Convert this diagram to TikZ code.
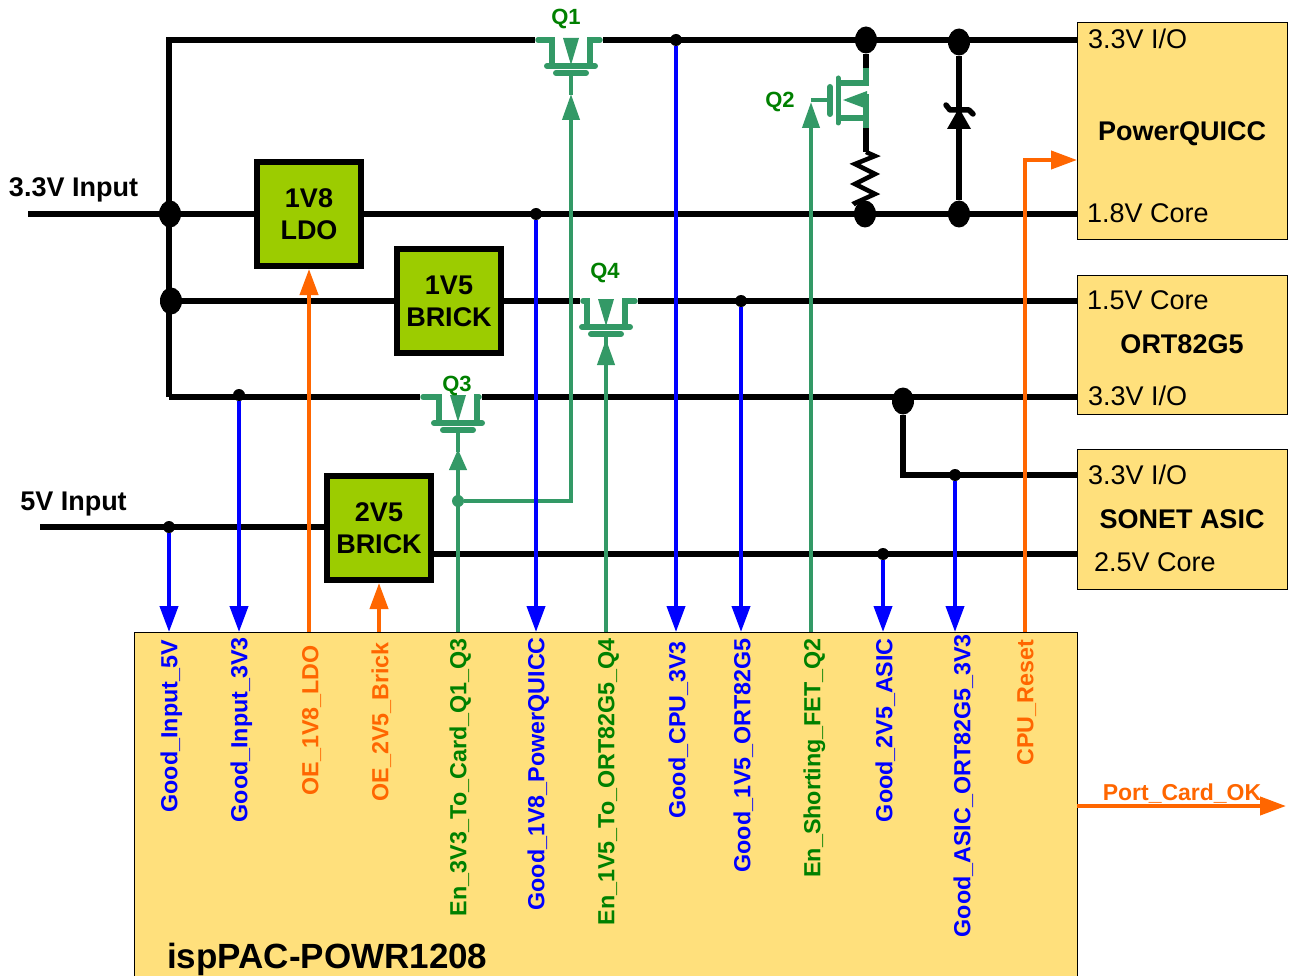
\documentclass[tikz,border=0pt]{standalone}
\usepackage{fontspec}
\setmainfont{Liberation Sans}
\usetikzlibrary{arrows.meta,shapes.geometric}
\definecolor{boxyellow}{HTML}{FFE07C}
\definecolor{brickgreen}{HTML}{9CCC00}
\definecolor{fetgreen}{HTML}{339966}
\definecolor{labelgreen}{HTML}{008000}
\definecolor{sigblue}{HTML}{0000FF}
\definecolor{sigorange}{HTML}{FF6600}
\tikzset{
  rail/.style={line width=5.5pt, black},
  sigblueline/.style={line width=4pt, sigblue, -{Triangle[length=26pt,width=18pt]}},
  sigorangeline/.style={line width=4pt, sigorange, -{Triangle[length=26pt,width=18pt]}},
  siggreenline/.style={line width=4pt, fetgreen, -{Triangle[length=26pt,width=17pt]}},
  brick/.style={draw=black, fill=brickgreen, line width=6pt, minimum width=104pt, minimum height=104pt,
    inner sep=0pt, align=center, font=\fontsize{27}{32}\selectfont\bfseries},
  chip/.style={draw=black, fill=boxyellow, line width=1pt, inner sep=0pt, outer sep=0pt, anchor=north west},
  bigdot/.style={ellipse, fill=black, inner sep=0pt, minimum width=22pt, minimum height=27pt},
  smalldot/.style={circle, fill=black, inner sep=0pt, minimum size=12pt},
  pintext/.style={font=\fontsize{27}{27}\selectfont, inner sep=0pt, anchor=west, text height=19pt, text depth=0pt},
  chiptext/.style={font=\fontsize{27}{27}\selectfont\bfseries, inner sep=0pt, text height=19pt, text depth=0pt},
  sigtext/.style={font=\fontsize{23.3}{23.3}\selectfont\bfseries, inner sep=0pt, rotate=90, anchor=east, text height=16.5pt, text depth=0pt},
  qtext/.style={font=\fontsize{22}{22}\selectfont\bfseries, labelgreen, inner sep=0pt, text height=16pt, text depth=0pt},
  pics/fet/.style 2 args={code={
    \draw[fetgreen, line width=5.5pt, line cap=round] (-#1+3,0) -- (-19,0) -- (-19,26);
    \draw[fetgreen, line width=5.5pt, line cap=round] (#2-3,0) -- (19,0) -- (19,26);
    \draw[fetgreen, line width=6pt, line cap=round] (-24,26) -- (24,26);
    \draw[fetgreen, line width=6pt, line cap=round] (-15,33) -- (15,33);
    \draw[fetgreen, line width=4.5pt] (0,33) -- (0,55);
    \fill[fetgreen] (-8,-2) -- (8,-2) -- (0,25) -- cycle;
    \coordinate (-left) at (-#1,0);
    \coordinate (-right) at (#2,0);
    \coordinate (-gate) at (0,33);
  }},
}
\begin{document}
\begin{tikzpicture}[x=1pt, y=-1pt]
  \useasboundingbox (0,0) rectangle (1289,976);
  \clip (0,0) rectangle (1289,976);

  % chips
  \node[chip, minimum width=210pt, minimum height=217pt] (quicc) at (1077,23) {};
  \node[chip, minimum width=210pt, minimum height=139pt] (ort) at (1077,275) {};
  \node[chip, minimum width=210pt, minimum height=140pt] (sonet) at (1077,449) {};
  \node[chip, minimum width=943pt, minimum height=360pt] (pac) at (134,632) {};

  % blocks
  \node[brick] (ldo) at (309,214) {1V8\\LDO};
  \node[brick] (bfive) at (449,301) {1V5\\BRICK};
  \node[brick] (btwo) at (379,528) {2V5\\BRICK};

  % junctions
  \node[bigdot] (jinput) at (170,214) {};
  \node[bigdot] (jfive) at (171,301) {};
  \node[bigdot] (jasic) at (903,401) {};
  \node[bigdot] (jqtop) at (866,40) {};
  \node[bigdot] (jqbot) at (865,214) {};
  \node[bigdot] (jztop) at (959,42) {};
  \node[bigdot] (jzbot) at (959,214) {};
  \node[smalldot] (dfive) at (169,527) {};
  \node[smalldot] (dthree) at (239,395) {};
  \node[smalldot] (dldo) at (536,214) {};
  \node[smalldot] (dcpu) at (676,40) {};
  \node[smalldot] (dort) at (741,301) {};
  \node[smalldot] (dcore) at (883,554) {};
  \node[smalldot] (dio) at (955,475) {};

  \coordinate (tl) at (169,40);
  \coordinate (bl) at (169,397);
  \coordinate (intl) at (28,214);
  \coordinate (infive) at (40,527);
  \coordinate (rtop) at (1078,40);
  \coordinate (rcore) at (1078,214);
  \coordinate (rfive) at (1078,301);
  \coordinate (rio) at (1078,397);
  \coordinate (rsio) at (1078,475);
  \coordinate (rsc) at (1078,554);
  \coordinate (bcore) at (432,554);

  % FETs
  \pic (qa) at (571,40) {fet={36}{32}};
  \pic (qc) at (458,397) {fet={38}{24}};
  \pic (qd) at (606,301) {fet={26}{32}};

  % rails
  \draw[rail] (bl) -- (tl) -- (qa-left);
  \draw[rail] (qa-right) -- (rtop);
  \draw[rail] (intl) -- (ldo.west);
  \draw[rail] (ldo.east) -- (rcore);
  \draw[rail] (jfive) -- (bfive.west);
  \draw[rail] (bfive.east) -- (qd-left);
  \draw[rail] (qd-right) -- (rfive);
  \draw[rail] (bl) -- (qc-left);
  \draw[rail] (qc-right) -- (rio);
  \draw[rail] (jasic) |- (rsio);
  \draw[rail] (infive) -- (btwo.west |- infive);
  \draw[rail] (bcore) -- (rsc);

  % Q2 with resistor
  \coordinate (qbd) at (866,68);
  \coordinate (qbs) at (866,128);
  \coordinate (qbg) at (830,100);
  \draw[rail] (jqtop) -- (qbd);
  \draw[rail] (qbs) -- (866,152);
  \draw[rail, line width=4.5pt] (866,152) -- (875,156) -- (855,164) -- (875,174) -- (855,184) -- (875,194) -- (855,203) -- (jqbot);
  \draw[fetgreen, line width=5.5pt] (qbd) -- (866,83) -- (838,83);
  \draw[fetgreen, line width=5.5pt] (838,118) -- (866,118);
  \draw[fetgreen, line width=5.5pt] (866,94) -- (qbs);
  \draw[fetgreen, line width=5pt, line cap=round] (838,78) -- (838,123);
  \draw[fetgreen, line width=6pt, line cap=round] (qbg) ++(0,-13) -- ++(0,27);
  \fill[fetgreen] (843,100) -- (867,91) -- (867,109) -- cycle;

  % zener
  \draw[rail] (jztop) -- (jzbot);
  \fill[black] (959,108) -- (947,129) -- (971,129) -- cycle;
  \draw[black, line width=5.5pt, line cap=round, line join=round] (946,105) -- (950,110) -- (969,110) -- (973,114);

  % green control lines
  \node[circle, fill=fetgreen, inner sep=0pt, minimum size=12pt] (den) at (458,501) {};
  \coordinate (enbus) at (458,632);
  \coordinate (pfour) at (606,632);
  \coordinate (pshort) at (811,632);
  \coordinate (cornera) at (571,501);
  \coordinate (qbstem) at (811,100);
  \draw[line width=4pt, fetgreen, -{Triangle[length=21pt,width=17pt]}] (enbus) -- (458,449);
  \draw[siggreenline] (den) -- (cornera) -- (571,94);
  \draw[siggreenline] (pfour) -- (606,339);
  \draw[siggreenline] (pshort) -- (811,102);
  \draw[fetgreen, line width=4pt] (qbstem) -- (qbg);

  % blue status lines
  \foreach \nm/\px in {dfive/169, dthree/239, dldo/536, dcpu/676, dort/741, dcore/883, dio/955}
    \draw[sigblueline] (\nm) -- (\px,632);

  % orange lines
  \coordinate (rstup) at (1025,160);
  \coordinate (rstpin) at (1025,632);
  \coordinate (okout) at (1286,806);
  \draw[sigorangeline] (309,632) -- (ldo.south);
  \draw[sigorangeline] (379,632) -- (btwo.south);
  \draw[sigorangeline] (rstpin) -- (rstup) -- (quicc.west |- rstup);
  \draw[sigorangeline] (pac.east |- okout) -- (okout);

  % text
  \node[chiptext] (tthree) at (73.5,187) {3.3V Input};
  \node[chiptext] (tfive) at (73.5,501) {5V Input};
  \node[pintext] (tqio) at (1088,39) {3.3V I/O};
  \node[pintext] (tqcore) at (1087,213) {1.8V Core};
  \node[pintext] (tocore) at (1087,300) {1.5V Core};
  \node[pintext] (toio) at (1088,396) {3.3V I/O};
  \node[pintext] (tsio) at (1088,475) {3.3V I/O};
  \node[pintext] (tscore) at (1094,562) {2.5V Core};
  \node[chiptext] (tquicc) at (1182,131) {PowerQUICC};
  \node[chiptext] (tort) at (1182,344) {ORT82G5};
  \node[chiptext] (tsonet) at (1182,519) {SONET ASIC};
  \node[font=\fontsize{35}{35}\selectfont\bfseries, inner sep=0pt, anchor=west, text height=25pt, text depth=0pt] (tpac) at (167,956) {ispPAC-POWR1208};
  \node[qtext] (tqa) at (566,17) {Q1};
  \node[qtext] (tqb) at (780,100) {Q2};
  \node[qtext] (tqc) at (457,383) {Q3};
  \node[qtext] (tqd) at (605,270) {Q4};
  \node[font=\fontsize{23}{23}\selectfont\bfseries, sigorange, inner sep=0pt, text height=16.5pt, text depth=0pt] (tok) at (1182,792) {Port\_Card\_OK};

  % pin labels
  \foreach \nm/\px/\py/\col/\txt in {
    la/169/640/sigblue/Good\_Input\_5V,
    lb/239/637/sigblue/Good\_Input\_3V3,
    lc/310/645/sigorange/OE\_1V8\_LDO,
    ld/380/642/sigorange/OE\_2V5\_Brick,
    le/458/638/labelgreen/En\_3V3\_To\_Card\_Q1\_Q3,
    lf/536/637/sigblue/Good\_1V8\_PowerQUICC,
    lg/606/638/labelgreen/En\_1V5\_To\_ORT82G5\_Q4,
    lh/677/641/sigblue/Good\_CPU\_3V3,
    li/742/638/sigblue/Good\_1V5\_ORT82G5,
    lj/812/638/labelgreen/En\_Shorting\_FET\_Q2,
    lk/884/638/sigblue/Good\_2V5\_ASIC,
    ll/962/634/sigblue/Good\_ASIC\_ORT82G5\_3V3,
    lm/1025/640/sigorange/CPU\_Reset}
    \node[sigtext, text=\col] (\nm) at (\px,\py) {\txt};
\end{tikzpicture}
\end{document}
